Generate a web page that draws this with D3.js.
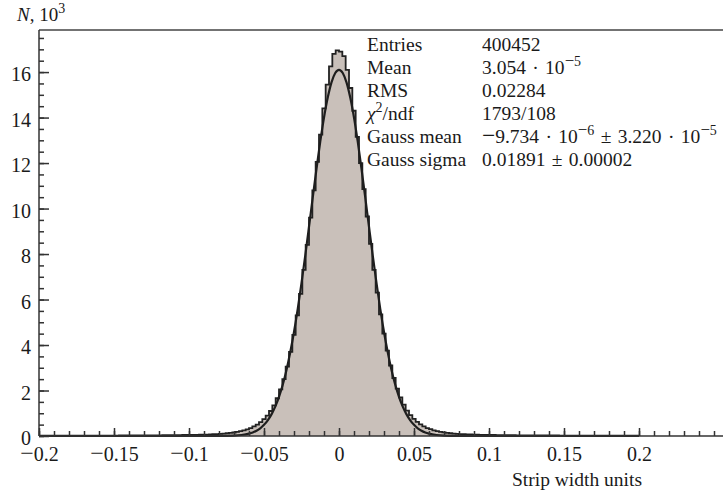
<!DOCTYPE html>
<html>
<head>
<meta charset="utf-8">
<script src="https://cdn.jsdelivr.net/npm/d3@7"></script>
<style>
  body { margin: 0; background: #fff; }
  svg text { font-family: "Liberation Serif", "DejaVu Serif", serif; fill: #1a1a1a; }
</style>
</head>
<body>
<svg id="chart" width="723" height="493"></svg>
<script>
// histogram range and bin counts (in 10^3), left to right
var histRange = [-0.2, 0.2];
var counts = [
  0.011,0.011,0.012,0.012,0.012,0.013,0.013,0.013,0.014,0.014,0.014,0.015,0.015,0.016,0.016,0.016,0.017,0.017,0.018,0.018,
  0.019,0.019,0.02,0.02,0.021,0.021,0.022,0.023,0.023,0.024,0.025,0.026,0.027,0.028,0.029,0.03,0.031,0.032,0.034,0.035,
  0.037,0.039,0.041,0.043,0.045,0.047,0.05,0.053,0.056,
  0.059,0.064,0.07,0.077,0.085,0.095,0.105,0.12,0.135,0.155,0.18,0.21,0.25,0.29,0.35,0.42,0.5,0.61,0.74,0.9,
  1.1,1.35,1.66,2.05,2.5,3.05,3.7,4.45,5.3,6.25,7.3,8.4,9.6,10.8,12.05,13.25,14.4,15.45,16.25,16.8,16.95,
  16.9,16.7,16.1,15.3,14.3,13.15,12.0,10.85,9.65,8.45,7.3,6.3,5.35,4.5,3.75,3.1,2.55,2.08,1.7,1.38,1.12,
  0.92,0.75,0.62,0.51,0.42,0.35,0.3,0.25,0.21,0.18,0.16,0.14,0.12,0.105,0.095,0.085,0.078,0.07,0.065,0.06,
  0.056,0.053,0.05,0.047,0.045,0.043,0.041,0.039,0.037,0.035,0.034,0.032,0.031,0.03,0.029,0.028,0.027,0.026,0.025,0.024,
  0.023,0.023,0.022,0.021,0.021,0.02,0.02,0.019,0.019,0.018,0.018,0.017,0.017,0.016,0.016,0.016,0.015,0.015,0.014,0.014,
  0.014,0.013,0.013,0.013,0.012,0.012,0.012,0.011,0.011
];

// gauss fit curve, sampled points
var fitX = [-0.2, -0.1, -0.08, -0.07, -0.065, -0.06, -0.0575, -0.055, -0.0525, -0.05, -0.0475, -0.045, -0.0425, -0.04,
  -0.0375, -0.035, -0.0325, -0.03, -0.0275, -0.025, -0.0225, -0.02, -0.0175, -0.015, -0.0125, -0.01, -0.0075, -0.005, -0.0025,
  0, 0.0025, 0.005, 0.0075, 0.01, 0.0125, 0.015, 0.0175, 0.02, 0.0225, 0.025, 0.0275, 0.03, 0.0325, 0.035, 0.0375, 0.04,
  0.0425, 0.045, 0.0475, 0.05, 0.0525, 0.055, 0.0575, 0.06, 0.065, 0.07, 0.08, 0.1, 0.2];
var fitY = [0, 0, 0.002, 0.017, 0.044, 0.105, 0.155, 0.23, 0.34, 0.49, 0.69, 0.95, 1.29, 1.72,
  2.25, 2.9, 3.68, 4.57, 5.59, 6.72, 7.93, 9.2, 10.49, 11.75, 12.94, 14.0, 14.88, 15.55, 15.96,
  16.1, 15.96, 15.55, 14.88, 14.0, 12.94, 11.75, 10.49, 9.2, 7.93, 6.72, 5.59, 4.57, 3.68, 2.9, 2.25, 1.72,
  1.29, 0.95, 0.69, 0.49, 0.34, 0.23, 0.155, 0.105, 0.044, 0.017, 0.002, 0, 0];

// ticks
var xTickLabels = [-0.2, -0.15, -0.1, -0.05, 0, 0.05, 0.1, 0.15, 0.2];
var yTickLabels = [0, 2, 4, 6, 8, 10, 12, 14, 16];

// stats box rows
var statNames = ["Entries", "Mean", "RMS", "χ^2/ndf", "Gauss mean", "Gauss sigma"];
var statValues = ["400452", "3.054 · 10^-5", "0.02284", "1793/108", "−9.734 · 10^-6 ± 3.220 · 10^-5", "0.01891 ± 0.00002"];

var svg = d3.select("#chart");
var plotLeft = 39, plotTop = 30, plotBottom = 436;

var x = d3.scaleLinear().domain([-0.2, 0.26]).range([plotLeft, plotLeft + 0.46 * 1500]);
var y = d3.scaleLinear().domain([0, 17.85]).range([plotBottom, plotTop]);

var binW = (histRange[1] - histRange[0]) / counts.length;

// step points of the histogram
var pts = [];
counts.forEach(function (c, i) {
  var a = histRange[0] + i * binW;
  pts.push([a, c]);
  pts.push([a + binW, c]);
});

var area = d3.area()
  .x(function (d) { return x(d[0]); })
  .y0(y(0))
  .y1(function (d) { return y(d[1]); });

svg.append("path")
  .datum(pts)
  .attr("d", area)
  .attr("fill", "#c9c0ba");

var line = d3.line()
  .x(function (d) { return x(d[0]); })
  .y(function (d) { return y(d[1]); });

svg.append("path")
  .datum(pts)
  .attr("d", line)
  .attr("fill", "none")
  .attr("stroke", "#222")
  .attr("stroke-width", 1.8);

// fit curve
var fitPts = fitX.map(function (v, i) { return [v, fitY[i]]; });
svg.append("path")
  .datum(fitPts)
  .attr("d", d3.line()
    .x(function (d) { return x(d[0]); })
    .y(function (d) { return y(d[1]); })
    .curve(d3.curveMonotoneX))
  .attr("fill", "none")
  .attr("stroke", "#1e1e1e")
  .attr("stroke-width", 2.2);

// frame top line
svg.append("line")
  .attr("x1", plotLeft).attr("x2", 723)
  .attr("y1", plotTop).attr("y2", plotTop)
  .attr("stroke", "#444").attr("stroke-width", 1.5);

// plain text piece, with the minus sign drawn a bit larger
function plain(sel, s, dy) {
  s.split(/(−)/).forEach(function (q) {
    if (!q.length) return;
    var t = sel.append("tspan").text(q);
    if (q === "−") t.style("font-size", "1.2em");
    if (dy) { t.attr("dy", dy); dy = 0; }
  });
}

// y axis, ticks pointing inside
var yMinor = d3.range(0, 17.6, 0.5);
svg.append("g")
  .attr("transform", "translate(" + plotLeft + ",0)")
  .call(d3.axisLeft(y).tickValues(yMinor).tickSizeInner(-5).tickSizeOuter(0).tickFormat(""))
  .call(function (g) { g.select(".domain").attr("d", "M0," + plotTop + "V" + plotBottom); });

var yAx = svg.append("g")
  .attr("transform", "translate(" + plotLeft + ",0)")
  .call(d3.axisLeft(y).tickValues(yTickLabels).tickSizeInner(-10).tickSizeOuter(0).tickPadding(8)
    .tickFormat(d3.format("d")));
yAx.select(".domain").remove();
yAx.selectAll("text").attr("dy", "0.43em").style("font-size", "20px");

// x axis
var xMinor = d3.range(-0.2, 0.2555, 0.01);
svg.append("g")
  .attr("transform", "translate(0," + plotBottom + ")")
  .call(d3.axisBottom(x).tickValues(xMinor).tickSizeInner(-5).tickSizeOuter(0).tickFormat(""))
  .call(function (g) { g.select(".domain").attr("d", "M" + plotLeft + ",0H723"); });

var xAx = svg.append("g")
  .attr("transform", "translate(0," + plotBottom + ")")
  .call(d3.axisBottom(x).tickValues(xTickLabels).tickSizeInner(-8).tickSizeOuter(0).tickPadding(11)
    .tickFormat(function (d) { return d === 0 ? "0" : String(d).replace("-", "−"); }));
xAx.select(".domain").remove();
xAx.selectAll("text").style("font-size", "20px").each(function () {
  var t = d3.select(this), s = t.text();
  t.text("");
  plain(t, s, 0);
});

svg.selectAll(".domain, .tick line").attr("stroke", "#333").attr("stroke-width", 1.5);

// writes text with ^ superscripts as tspans
function richText(sel, str) {
  var parts = str.split(/\^(-?\d+)/);
  var shift = 0;
  parts.forEach(function (p, i) {
    if (i % 2 === 1) {
      var sup = sel.append("tspan").attr("dy", -8).style("font-size", "14px");
      if (p.charAt(0) === "-") {
        sup.append("tspan").style("font-size", "1.2em").text("−");
        sup.append("tspan").text(p.slice(1));
      } else {
        sup.text(p);
      }
      shift = 8;
    } else if (p.length) {
      plain(sel, p, shift);
      shift = 0;
    }
  });
}

// axis titles
var yt = svg.append("text").attr("x", 17).attr("y", 21).style("font-size", "19px");
yt.append("tspan").style("font-style", "italic").text("N");
richText(yt, ", 10^3");

svg.append("text")
  .attr("x", 642).attr("y", 486)
  .attr("text-anchor", "end")
  .style("font-size", "19.5px")
  .text("Strip width units");

var stats = svg.append("g").style("font-size", "19.5px");
statNames.forEach(function (n, i) {
  var yy = 51 + i * 23;
  var t = stats.append("text").attr("x", 367).attr("y", yy);
  if (n.indexOf("χ") === 0) {
    t.append("tspan").style("font-style", "italic").text("χ");
    richText(t, n.slice(1));
  } else {
    t.text(n);
  }
  var v = stats.append("text").attr("x", 482).attr("y", yy).style("word-spacing", "1.5px");
  richText(v, statValues[i]);
});
</script>
</body>
</html>
